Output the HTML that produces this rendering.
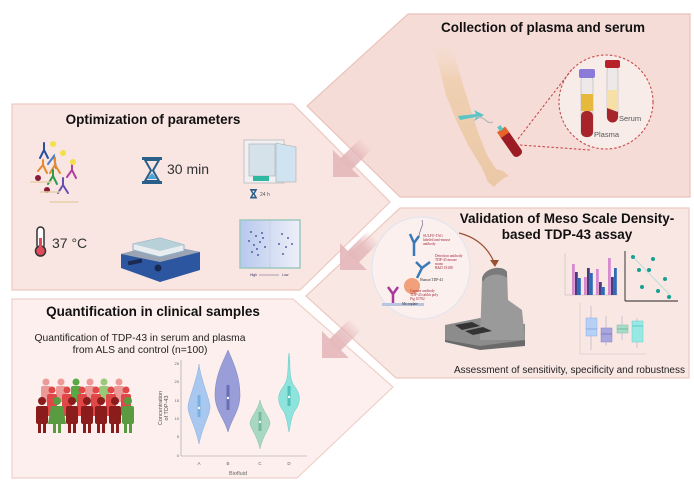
<!DOCTYPE html>
<html><head><meta charset="utf-8"><style>
html,body{margin:0;padding:0;background:#fff;}
svg{display:block;font-family:"Liberation Sans",sans-serif;}
</style></head><body>
<svg width="694" height="497" viewBox="0 0 694 497" xmlns="http://www.w3.org/2000/svg">
<defs>
<linearGradient id="ag" x1="0" y1="0" x2="1" y2="0">
<stop offset="0" stop-color="#e4b7b9" stop-opacity="0"/>
<stop offset="0.5" stop-color="#e4b7b9" stop-opacity="0.8"/>
<stop offset="1" stop-color="#e4b7b9" stop-opacity="0.95"/>
</linearGradient>
<linearGradient id="skin" x1="0" y1="0" x2="0" y2="1">
<stop offset="0" stop-color="#f3dcc8" stop-opacity="0.2"/>
<stop offset="0.25" stop-color="#efd0b2"/>
<stop offset="1" stop-color="#ebc8a6"/>
</linearGradient>
<linearGradient id="gel" x1="0" y1="0" x2="1" y2="0">
<stop offset="0" stop-color="#b7c8ee"/><stop offset="1" stop-color="#eef0f8"/>
</linearGradient>
</defs>

<!-- panels -->
<polygon points="408,14 690,14 690,197 400,197 307,106" fill="#f6dcd7" stroke="#e9c3bb" stroke-width="1.2"/>
<polygon points="12,104 293,104 390,202 300,290 12,290" fill="#f9e5e1" stroke="#ecc9c1" stroke-width="1.2"/>
<polygon points="400,208 689,208 689,378 396,378 306,296" fill="#f9e7e4" stroke="#ecc9c1" stroke-width="1.2"/>
<polygon points="12,299 293,299 393,387 297,478 12,478" fill="#fcefed" stroke="#efd0ca" stroke-width="1.2"/>

<!-- arrows -->
<g transform="translate(333,177) rotate(135)"><polygon points="0,0 -19,-19 -19,19" fill="#e4b7b9" opacity="0.9"/><rect x="-48" y="-8" width="30" height="16" fill="url(#ag)"/></g>
<g transform="translate(340,270) rotate(135)"><polygon points="0,0 -19,-19 -19,19" fill="#e4b7b9" opacity="0.9"/><rect x="-48" y="-8" width="30" height="16" fill="url(#ag)"/></g>
<g transform="translate(322,358) rotate(135)"><polygon points="0,0 -19,-19 -19,19" fill="#e4b7b9" opacity="0.9"/><rect x="-48" y="-8" width="30" height="16" fill="url(#ag)"/></g>

<!-- titles -->
<g font-weight="bold" font-size="13.5" fill="#111" text-anchor="middle">
<text x="543" y="32">Collection of plasma and serum</text>
<text x="153" y="124">Optimization of parameters</text>
<text x="567" y="223">Validation of Meso Scale Density-</text>
<text x="567" y="239">based TDP-43 assay</text>
<text x="153" y="316">Quantification in clinical samples</text>
</g>

<!-- collection illustration -->
<path d="M433,47 L440,70 L446,95 L456,120 L468,145 L482,168 L488,182 L494,187 L498,183 L504,178 L509,176 L503,171 L496,169 L487,155 L479,135 L471,110 L463,85 L456,60 L450,45 Z" fill="url(#skin)"/>
<path d="M458,116 L476,114 L474,110 L484,115 L474,121 L476,117 L460,120 Z" fill="#5cc4c4"/>
<path d="M476,117 C486,116 486,125 493,122" stroke="#bbb" stroke-width="1.3" fill="none"/>
<g transform="rotate(-35 512 145)"><rect x="507" y="128" width="10" height="30" rx="4" fill="#9b1c24"/><rect x="507" y="126" width="10" height="7" fill="#e8632a"/><rect x="510" y="122" width="4" height="5" fill="#5cc4c4"/></g>
<circle cx="606" cy="102" r="47" fill="#f8ece9" stroke="#c94a4a" stroke-width="1.1" stroke-dasharray="2.5,2"/>
<line x1="518" y1="139" x2="573" y2="68" stroke="#c94a4a" stroke-width="1.1" stroke-dasharray="2.5,2"/>
<line x1="520" y1="145" x2="590" y2="150" stroke="#c94a4a" stroke-width="1.1" stroke-dasharray="2.5,2"/>
<rect x="581" y="75" width="12" height="62" rx="5" fill="#ece9e8" stroke="#aaa" stroke-width="0.5"/>
<rect x="581" y="94" width="12" height="17" fill="#e6b83c"/>
<rect x="581" y="111" width="12" height="26" rx="5" fill="#a8242b"/>
<rect x="579" y="69" width="16" height="9" rx="2" fill="#8c7ad8"/>
<rect x="607" y="66" width="11" height="56" rx="5" fill="#ece9e8" stroke="#aaa" stroke-width="0.5"/>
<rect x="607" y="90" width="11" height="20" fill="#f7e0a8"/>
<path d="M607,108 L618,112 L618,117 A5.5,5.5 0 0 1 607,117 Z" fill="#a8242b"/>
<rect x="605" y="60" width="15" height="8" rx="2" fill="#b8202a"/>
<text x="594" y="137" font-size="7.5" fill="#555">Plasma</text>
<text x="619" y="121" font-size="7.5" fill="#555">Serum</text>

<!-- optimization illustrations -->
<g stroke-width="2" fill="none" stroke-linecap="round">
<path d="M40,158 L44,150 L48,158 M44,150 L44,143" stroke="#2b4fa0"/>
<path d="M48,164 L54,156 L56,168" stroke="#4a7ed0"/>
<path d="M38,171 L43,165 L47,173 M43,165 L43,160" stroke="#e48a2c"/>
<path d="M50,173 L55,165 L60,173 M55,165 L55,158" stroke="#e48a2c"/>
<path d="M48,184 L53,176 L57,184 M53,176 L53,170" stroke="#2e9a4a"/>
<path d="M67,177 L72,170 L76,178 M72,170 L72,164" stroke="#b040a0"/>
<path d="M58,193 L63,185 L68,193 M63,185 L63,178" stroke="#6a4fb0"/>
</g>
<circle cx="53" cy="144" r="3" fill="#f2e04a"/><circle cx="63" cy="153" r="3" fill="#f2e04a"/><circle cx="73" cy="162" r="3" fill="#f2e04a"/>
<circle cx="38" cy="178" r="3" fill="#8a1a3a"/><circle cx="47" cy="190" r="3" fill="#8a1a3a"/>
<g stroke="#e8d0a8" stroke-width="1.6"><line x1="30" y1="182" x2="52" y2="182"/><line x1="40" y1="192" x2="60" y2="192"/><line x1="50" y1="202" x2="78" y2="202"/></g>
<g transform="translate(142,157)"><rect x="0" y="0" width="20" height="3" fill="#2a5f8a"/><rect x="0" y="24" width="20" height="3" fill="#2a5f8a"/><path d="M3,3 L17,3 L11,13.5 L17,24 L3,24 L9,13.5 Z" fill="none" stroke="#2a5f8a" stroke-width="2"/><path d="M5,22 L15,22 L10,16 Z" fill="#4aa2d8"/></g>
<text x="167" y="174" font-size="14" fill="#333">30 min</text>
<rect x="244" y="140" width="40" height="43" fill="#f0f0f2" stroke="#bbb" stroke-width="0.8"/>
<rect x="249" y="144" width="26" height="32" fill="#d6e2ea" stroke="#aaa" stroke-width="0.6"/>
<path d="M276,143 L296,147 L296,182 L276,182 Z" fill="#cfe3f0" stroke="#aaa" stroke-width="0.6"/>
<rect x="253" y="176" width="16" height="5" fill="#2fb8a0"/>
<g transform="translate(250,189) scale(0.35)"><rect x="0" y="0" width="20" height="3" fill="#2a5f8a"/><rect x="0" y="24" width="20" height="3" fill="#2a5f8a"/><path d="M3,3 L17,3 L11,13.5 L17,24 L3,24 L9,13.5 Z" fill="none" stroke="#2a5f8a" stroke-width="4"/></g>
<text x="260" y="196" font-size="5" fill="#555">24 h</text>
<rect x="37" y="227" width="7" height="22" rx="3.5" fill="#fff" stroke="#333" stroke-width="1.5"/>
<circle cx="40.5" cy="251" r="5" fill="#e04a5a" stroke="#333" stroke-width="1.5"/>
<rect x="39" y="238" width="3" height="12" fill="#e04a5a"/>
<text x="52" y="248" font-size="14" fill="#333">37 °C</text>
<polygon points="121,254 160,244 200,252 200,270 160,282 121,268" fill="#2d56a0"/>
<polygon points="121,254 160,244 200,252 160,262" fill="#9aa4b4"/>
<polygon points="133,244 160,238 184,245 184,251 160,257 133,250" fill="#e8eef0" stroke="#8db0c4" stroke-width="1"/>
<polygon points="133,244 160,238 184,245 160,251" fill="#b8d0d8"/>
<rect x="128" y="260" width="14" height="4" fill="#1a2a50" transform="rotate(-12 135 262)"/>
<circle cx="158" cy="268" r="3.5" fill="#1a2a50"/>
<rect x="240" y="220" width="60" height="48" fill="url(#gel)" stroke="#9cc8c0" stroke-width="1.5"/>
<line x1="270" y1="220" x2="270" y2="268" stroke="#aab" stroke-width="0.5" stroke-dasharray="1,1"/>
<g fill="#2a3f8a">
<circle cx="251" cy="232" r="0.9"/><circle cx="256" cy="236" r="0.9"/><circle cx="262" cy="233" r="0.9"/><circle cx="249" cy="241" r="0.9"/><circle cx="254" cy="245" r="0.9"/><circle cx="260" cy="242" r="0.9"/><circle cx="265" cy="247" r="0.9"/><circle cx="252" cy="252" r="0.9"/><circle cx="258" cy="255" r="0.9"/><circle cx="263" cy="238" r="0.9"/><circle cx="257" cy="249" r="0.9"/>
<circle cx="282" cy="234" r="0.9"/><circle cx="288" cy="238" r="0.9"/><circle cx="279" cy="244" r="0.9"/><circle cx="286" cy="247" r="0.9"/><circle cx="292" cy="244" r="0.9"/><circle cx="283" cy="254" r="0.9"/>
</g>
<text x="250" y="276" font-size="3.5" fill="#336">High</text><line x1="259" y1="275" x2="279" y2="275" stroke="#336" stroke-width="0.4"/><text x="282" y="276" font-size="3.5" fill="#336">Low</text>

<!-- validation -->
<ellipse cx="421" cy="268" rx="49" ry="51" fill="#fbf0ee" stroke="#dde4f0" stroke-width="1"/>
<rect x="382" y="303" width="42" height="3" fill="#b8c4e0"/>
<path d="M393,303 L393,294 L388,287 M393,294 L398,287" stroke="#a8389a" stroke-width="2.5" fill="none"/>
<circle cx="412" cy="286" r="8" fill="#f0a07a"/>
<path d="M417,278 L422,268 L430,262 M422,268 L416,262" stroke="#3a7ab8" stroke-width="2.5" fill="none"/>
<path d="M414,256 L414,243 L410,234 M414,243 L419,236" stroke="#3a7ab8" stroke-width="2.5" fill="none"/>
<path d="M419,236 C420,228 424,226 422,220" stroke="#557" stroke-width="0.6" fill="none"/>
<g font-family="Liberation Serif,serif" font-size="3.6" fill="#a02a3a">
<text x="423" y="237">SULFO-TAG</text><text x="423" y="241">labeled anti-mouse</text><text x="423" y="245">antibody</text>
<text x="435" y="257">Detection antibody</text><text x="435" y="261">TDP-43 mouse</text><text x="435" y="265">mono</text><text x="435" y="269">R&amp;D 18188</text>
<text x="410" y="292">Capture antibody</text><text x="410" y="296">TDP-43 rabbit poly</text><text x="410" y="300">Ptg 10782</text>
</g>
<text x="420" y="281" font-family="Liberation Serif,serif" font-size="3.6" fill="#333">Human TDP-43</text>
<text x="402" y="305" font-family="Liberation Serif,serif" font-size="3.6" fill="#333">Microplate</text>
<path d="M459,233 C475,237 487,246 494,262" stroke="#9a5030" stroke-width="1.2" fill="none"/>
<polygon points="490,260 499,260 495,267" fill="#9a5030"/>
<polygon points="445,333 495,330 525,340 525,346 480,350 445,342" fill="#6a6a6a"/>
<polygon points="445,325 480,318 500,322 525,324 525,340 480,346 445,340" fill="#8c8c8c"/>
<path d="M480,340 L482,280 C482,268 503,264 507,272 L508,300 L522,310 L525,340 Z" fill="#9a9a9a"/>
<path d="M482,280 C482,268 503,264 507,272 L507,278 C500,272 486,274 483,282 Z" fill="#7a7a7a"/>
<polygon points="455,325 472,322 480,326 462,330" fill="#333"/>
<polygon points="465,331 483,327 492,331 473,335" fill="#333"/>

<!-- bar chart -->
<g stroke="#aaa" stroke-width="0.4"><line x1="565" y1="253" x2="565" y2="295"/><line x1="565" y1="295" x2="618" y2="295"/></g>
<g>
<rect x="572" y="264" width="2.8" height="31" fill="#d88ad0"/><rect x="575" y="272" width="2.8" height="23" fill="#4a3b7a"/><rect x="578" y="278" width="2.8" height="17" fill="#2f6ab8"/>
<rect x="584" y="277" width="2.8" height="18" fill="#d88ad0"/><rect x="587" y="268" width="2.8" height="27" fill="#4a3b7a"/><rect x="590" y="273" width="2.8" height="22" fill="#2f6ab8"/>
<rect x="596" y="269" width="2.8" height="26" fill="#d88ad0"/><rect x="599" y="282" width="2.8" height="13" fill="#4a3b7a"/><rect x="602" y="287" width="2.8" height="8" fill="#2f6ab8"/>
<rect x="608" y="258" width="2.8" height="37" fill="#d88ad0"/><rect x="611" y="277" width="2.8" height="18" fill="#4a3b7a"/><rect x="614" y="268" width="2.8" height="27" fill="#2f6ab8"/>
</g>
<!-- scatter -->
<g stroke="#222" stroke-width="0.9"><line x1="625" y1="251" x2="625" y2="301"/><line x1="625" y1="301" x2="678" y2="301"/></g>
<line x1="633" y1="257" x2="672" y2="297" stroke="#a8dcd4" stroke-width="0.8"/>
<g fill="#16a090"><circle cx="633" cy="257" r="2"/><circle cx="653" cy="259" r="2"/><circle cx="639" cy="270" r="2"/><circle cx="649" cy="270" r="2"/><circle cx="665" cy="279" r="2"/><circle cx="642" cy="287" r="2"/><circle cx="658" cy="291" r="2"/><circle cx="669" cy="297" r="2"/></g>
<!-- boxplot -->
<g stroke="#bbb" stroke-width="0.4"><line x1="580" y1="303" x2="580" y2="354"/><line x1="580" y1="354" x2="646" y2="354"/></g>
<g stroke-width="0.5">
<line x1="591" y1="306" x2="591" y2="350" stroke="#99b"/><rect x="586" y="318" width="11" height="18" fill="#b7d0f5" stroke="#8aaee0"/><line x1="586" y1="329" x2="597" y2="329" stroke="#5a8ad0"/>
<line x1="606" y1="316" x2="606" y2="346" stroke="#99b"/><rect x="601" y="328" width="11" height="14" fill="#a9a6dd" stroke="#8886c8"/><line x1="601" y1="334" x2="612" y2="334" stroke="#5a56a8"/>
<line x1="622" y1="316" x2="622" y2="340" stroke="#99b"/><rect x="617" y="325" width="11" height="8" fill="#a8dcc8" stroke="#7cc0a8"/><line x1="617" y1="329" x2="628" y2="329" stroke="#3a9a78"/>
<line x1="637" y1="318" x2="637" y2="348" stroke="#99b"/><rect x="632" y="321" width="11" height="21" fill="#98e8e4" stroke="#6ad0cc"/><line x1="632" y1="326" x2="643" y2="326" stroke="#2ab0a8"/>
</g>
<text x="685" y="373" font-size="10" fill="#222" text-anchor="end">Assessment of sensitivity, specificity and robustness</text>

<!-- quantification -->
<g font-size="10.3" fill="#222" text-anchor="middle">
<text x="140" y="341">Quantification of TDP-43 in serum and plasma</text>
<text x="140" y="353">from ALS and control (n=100)</text>
</g>
<!-- people -->
<g>
<g fill="#eb9a98"><circle cx="46" cy="382" r="3.5"/><rect x="41" y="386" width="10" height="16" rx="2"/>
<circle cx="61" cy="382" r="3.5"/><rect x="56" y="386" width="10" height="16" rx="2"/>
<circle cx="90" cy="382" r="3.5"/><rect x="85" y="386" width="10" height="16" rx="2"/>
<circle cx="119" cy="382" r="3.5"/><rect x="114" y="386" width="10" height="16" rx="2"/></g>
<g fill="#5aa844"><circle cx="76" cy="382" r="3.5"/><rect x="71" y="386" width="10" height="16" rx="2"/></g>
<g fill="#98c878"><circle cx="104" cy="382" r="3.5"/><rect x="99" y="386" width="10" height="16" rx="2"/></g>
<g fill="#e04848"><circle cx="52" cy="390" r="3.5"/><rect x="47" y="394" width="10" height="22" rx="2"/>
<circle cx="67" cy="390" r="3.5"/><rect x="62" y="394" width="10" height="22" rx="2"/>
<circle cx="82" cy="390" r="3.5"/><rect x="77" y="394" width="10" height="22" rx="2"/>
<circle cx="96" cy="390" r="3.5"/><rect x="91" y="394" width="10" height="22" rx="2"/>
<circle cx="111" cy="390" r="3.5"/><rect x="106" y="394" width="10" height="22" rx="2"/>
<circle cx="126" cy="390" r="3.5"/><rect x="121" y="394" width="10" height="22" rx="2"/></g>
<g fill="#8a1c1c"><circle cx="42" cy="401" r="4"/><rect x="36" y="406" width="12" height="18" rx="2"/><rect x="38" y="422" width="3" height="11"/><rect x="43" y="422" width="3" height="11"/>
<circle cx="72" cy="401" r="4"/><rect x="66" y="406" width="12" height="18" rx="2"/><rect x="68" y="422" width="3" height="11"/><rect x="73" y="422" width="3" height="11"/>
<circle cx="87" cy="401" r="4"/><rect x="81" y="406" width="12" height="18" rx="2"/><rect x="83" y="422" width="3" height="11"/><rect x="88" y="422" width="3" height="11"/>
<circle cx="101" cy="401" r="4"/><rect x="95" y="406" width="12" height="18" rx="2"/><rect x="97" y="422" width="3" height="11"/><rect x="102" y="422" width="3" height="11"/>
<circle cx="115" cy="401" r="4"/><rect x="109" y="406" width="12" height="18" rx="2"/><rect x="111" y="422" width="3" height="11"/><rect x="116" y="422" width="3" height="11"/></g>
<g fill="#5a9a40"><circle cx="57" cy="401" r="4"/><path d="M51,406 L63,406 L66,424 L48,424 Z"/><rect x="53" y="422" width="3" height="11"/><rect x="58" y="422" width="3" height="11"/>
<circle cx="128" cy="401" r="4"/><rect x="122" y="406" width="12" height="18" rx="2"/><rect x="124" y="422" width="3" height="11"/><rect x="129" y="422" width="3" height="11"/></g>
</g>
<!-- violin chart -->
<g stroke="#999" stroke-width="0.6"><line x1="181" y1="360" x2="181" y2="456"/><line x1="181" y1="456" x2="307" y2="456"/></g>
<g font-size="4" fill="#666" text-anchor="end"><text x="179" y="365">25</text><text x="179" y="383">20</text><text x="179" y="402">15</text><text x="179" y="420">10</text><text x="179" y="438">5</text><text x="179" y="457">0</text></g>
<g font-size="4.5" fill="#666" text-anchor="middle"><text x="199" y="465">A</text><text x="228" y="465">B</text><text x="260" y="465">C</text><text x="289" y="465">D</text></g>
<text x="238" y="475" font-size="5.5" fill="#666" text-anchor="middle">Biofluid</text>
<text transform="translate(162,408) rotate(-90)" font-size="5.5" fill="#555" text-anchor="middle">Concentration</text>
<text transform="translate(168,408) rotate(-90)" font-size="5.5" fill="#555" text-anchor="middle">of TDP-43</text>
<path d="M199,364 C201,380 210,400 210,407 C210,415 203,425 199,444 C195,425 188,415 188,407 C188,400 197,380 199,364 Z" fill="#a8c8f0" stroke="#88aee0" stroke-width="0.5"/>
<rect x="197.5" y="395" width="3" height="22" fill="#7aaee0"/><circle cx="199" cy="408" r="1.2" fill="#fff"/>
<path d="M228,350 C232,360 240,375 240,395 C240,410 232,418 228,432 C224,418 215,410 215,395 C215,375 224,360 228,350 Z" fill="#9a9ed8" stroke="#7a7ec0" stroke-width="0.5"/>
<rect x="226.5" y="385" width="3" height="25" fill="#6a6eb8"/><circle cx="228" cy="398" r="1.2" fill="#fff"/>
<path d="M260,400 C262,410 270,418 270,423 C270,428 263,435 260,449 C257,435 250,428 250,423 C250,418 258,410 260,400 Z" fill="#a8d8c4" stroke="#88c0a8" stroke-width="0.5"/>
<rect x="258.5" y="412" width="3" height="19" fill="#78b89c"/><circle cx="260" cy="422" r="1.2" fill="#fff"/>
<path d="M289,353 C291,365 288,378 295,387 C301,395 301,403 294,412 C291,418 290,428 289,432 C288,428 287,418 284,412 C277,403 277,395 283,387 C290,378 287,365 289,353 Z" fill="#8ee4dc" stroke="#60ccc4" stroke-width="0.5"/>
<rect x="287.5" y="386" width="3" height="20" fill="#50c0b8"/><circle cx="289" cy="397" r="1.2" fill="#fff"/>
</svg>
</body></html>
